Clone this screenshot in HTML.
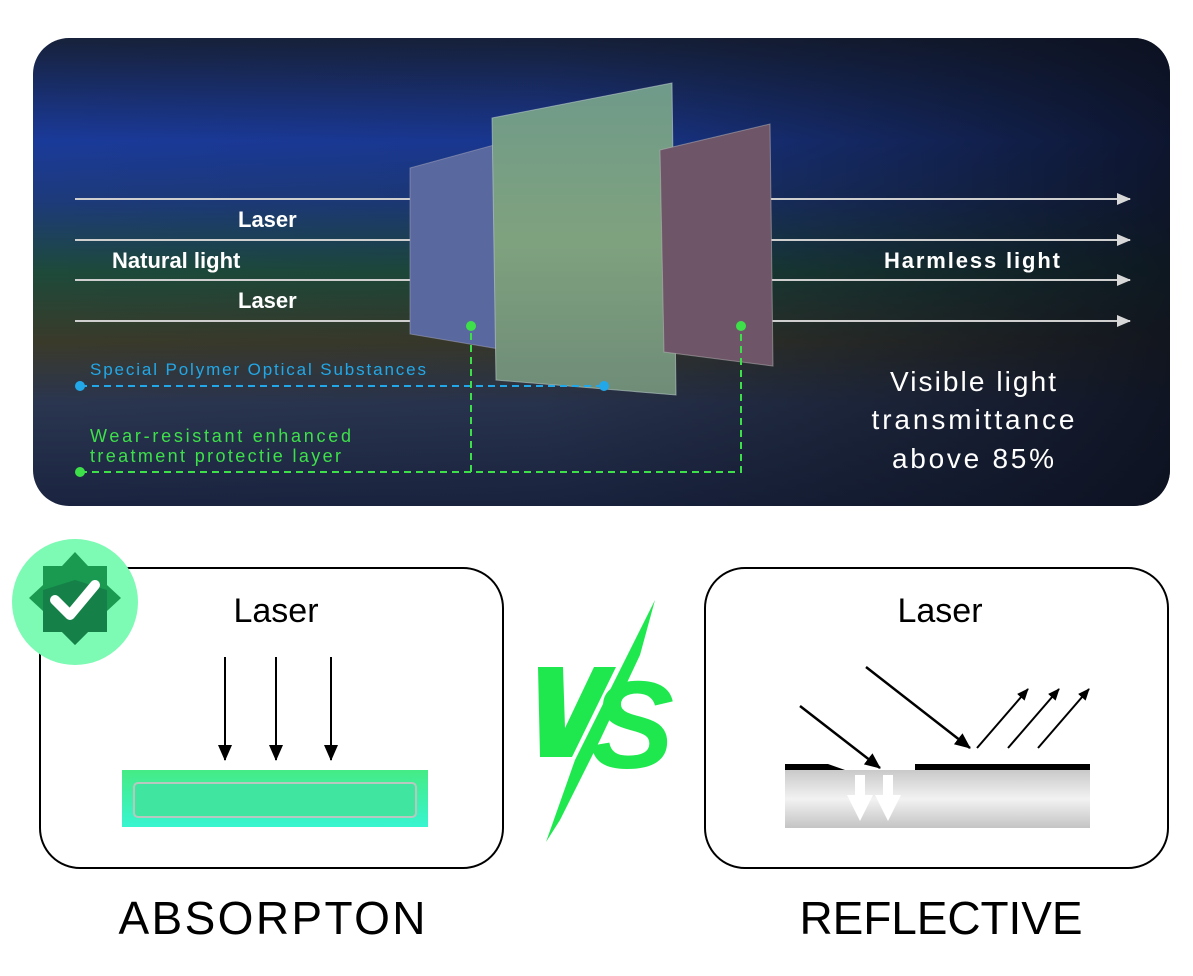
<!DOCTYPE html>
<html><head><meta charset="utf-8"><style>
html,body{margin:0;padding:0;background:#fff;width:1193px;height:976px;overflow:hidden}
svg{display:block}
text{font-family:"Liberation Sans",sans-serif}
</style></head><body>
<svg width="1193" height="976" viewBox="0 0 1193 976" xmlns="http://www.w3.org/2000/svg">
<defs>
<linearGradient id="bg" x1="0" y1="0" x2="0" y2="1">
<stop offset="0" stop-color="#17213a"/>
<stop offset="0.22" stop-color="#1a3a9a"/>
<stop offset="0.35" stop-color="#1d3a7a"/>
<stop offset="0.5" stop-color="#1d4a3a"/>
<stop offset="0.65" stop-color="#3a3a2a"/>
<stop offset="0.78" stop-color="#2a3550"/>
<stop offset="1" stop-color="#1a2440"/>
</linearGradient>
<linearGradient id="fade" x1="0" y1="0" x2="1" y2="0">
<stop offset="0" stop-color="#0d1424" stop-opacity="0"/>
<stop offset="0.45" stop-color="#0d1424" stop-opacity="0.1"/>
<stop offset="1" stop-color="#0b0f1c" stop-opacity="0.85"/>
</linearGradient>
<linearGradient id="bar" x1="0" y1="0" x2="0" y2="1">
<stop offset="0" stop-color="#45eb85"/><stop offset="1" stop-color="#38f5d0"/>
</linearGradient>
<linearGradient id="gray" x1="0" y1="0" x2="0" y2="1">
<stop offset="0" stop-color="#c9c9c9"/><stop offset="0.5" stop-color="#f2f2f2"/><stop offset="1" stop-color="#c4c4c4"/>
</linearGradient>
<linearGradient id="pc" x1="0" y1="0" x2="0" y2="1">
<stop offset="0" stop-color="#6f9a8a"/><stop offset="0.5" stop-color="#7fa27e"/><stop offset="1" stop-color="#6f8c78"/>
</linearGradient>
<marker id="wa" markerWidth="14" markerHeight="14" refX="13" refY="7" orient="auto" markerUnits="userSpaceOnUse"><path d="M0,1 L14,7 L0,13z" fill="#d8d8d8"/></marker>
<marker id="ba" markerWidth="16" markerHeight="16" refX="15" refY="8" orient="auto" markerUnits="userSpaceOnUse"><path d="M0,1 L16,8 L0,15z" fill="#000"/></marker>
<marker id="bs" markerWidth="12" markerHeight="12" refX="11" refY="6" orient="auto" markerUnits="userSpaceOnUse"><path d="M0,1 L12,6 L0,11z" fill="#000"/></marker>
</defs>
<rect x="33" y="38" width="1137" height="468" rx="36" fill="url(#bg)"/>
<rect x="33" y="38" width="1137" height="468" rx="36" fill="url(#fade)"/>
<g stroke="#cfcfcf" stroke-width="2" marker-end="url(#wa)">
<line x1="75" y1="199" x2="1130" y2="199"/>
<line x1="75" y1="240" x2="1130" y2="240"/>
<line x1="75" y1="280" x2="1130" y2="280"/>
<line x1="75" y1="321" x2="1130" y2="321"/>
</g>
<polygon points="410,168 505,142 505,350 410,334" fill="#5a68a0" stroke="#aab" stroke-opacity="0.5"/>
<polygon points="492,118 672,83 676,395 496,380" fill="url(#pc)" stroke="#bcc" stroke-opacity="0.6"/>
<polygon points="660,150 770,124 773,366 664,352" fill="#6e5668" stroke="#bbb" stroke-opacity="0.5"/>
<g fill="#fff" font-weight="bold" font-size="22">
<text x="238" y="227">Laser</text>
<text x="112" y="268">Natural light</text>
<text x="238" y="308">Laser</text>
<text x="884" y="268" textLength="176">Harmless light</text>
</g>
<g fill="#fff" font-size="28" text-anchor="middle">
<text x="973" y="391" textLength="166">Visible light</text>
<text x="973" y="429" textLength="203">transmittance</text>
<text x="973" y="468" textLength="162">above 85%</text>
</g>
<text x="90" y="375" fill="#22a8e8" font-size="17" textLength="336">Special Polymer Optical Substances</text>
<line x1="80" y1="386" x2="604" y2="386" stroke="#22a8e8" stroke-width="2" stroke-dasharray="7,5"/>
<circle cx="80" cy="386" r="5" fill="#22a8e8"/><circle cx="604" cy="386" r="5" fill="#22a8e8"/>
<text x="90" y="442" fill="#3ee04a" font-size="18" textLength="261">Wear-resistant enhanced</text>
<text x="90" y="462" fill="#3ee04a" font-size="18" textLength="251">treatment protectie layer</text>
<path d="M80,472 H741 V326 M471,472 V326" fill="none" stroke="#3ee04a" stroke-width="2" stroke-dasharray="7,5"/>
<circle cx="80" cy="472" r="5" fill="#3ee04a"/><circle cx="471" cy="326" r="5" fill="#3ee04a"/><circle cx="741" cy="326" r="5" fill="#3ee04a"/>

<rect x="40" y="568" width="463" height="300" rx="40" fill="#fff" stroke="#000" stroke-width="2"/>
<rect x="705" y="568" width="463" height="300" rx="40" fill="#fff" stroke="#000" stroke-width="2"/>
<text x="276" y="622" font-size="34" text-anchor="middle">Laser</text>
<text x="940" y="622" font-size="34" text-anchor="middle">Laser</text>
<g stroke="#000" stroke-width="2" marker-end="url(#ba)">
<line x1="225" y1="657" x2="225" y2="760"/>
<line x1="276" y1="657" x2="276" y2="760"/>
<line x1="331" y1="657" x2="331" y2="760"/>
</g>
<rect x="122" y="770" width="306" height="57" fill="url(#bar)"/>
<rect x="134" y="783" width="282" height="34" rx="4" fill="#40e6a0" stroke="#b8c8c0" stroke-width="2"/>
<circle cx="75" cy="602" r="63" fill="#7dfab4"/>
<polygon points="75,552 88,566 107,566 107,585 121,598 107,611 107,632 88,632 75,645 62,632 43,632 43,611 29,598 43,585 43,566 62,566" fill="#1a9a50"/>
<polygon points="75,580 107,590 107,632 88,632 75,645 62,632 43,632 43,590" fill="#158048"/>
<path d="M55,600 L70,615 L95,585" fill="none" stroke="#fff" stroke-width="10" stroke-linecap="round" stroke-linejoin="round"/>

<rect x="785" y="770" width="305" height="58" fill="url(#gray)"/>
<path d="M785,764 H828 L845,770 H785z" fill="#000"/>
<rect x="915" y="764" width="175" height="6" fill="#000"/>
<path d="M855,775 h10 v20 h8 l-13,26 l-13,-26 h8z M883,775 h10 v20 h8 l-13,26 l-13,-26 h8z" fill="#fff"/>
<g stroke="#000" stroke-width="2.5" marker-end="url(#ba)">
<line x1="800" y1="706" x2="880" y2="768"/>
<line x1="866" y1="667" x2="970" y2="748"/>
</g>
<g stroke="#000" stroke-width="2" marker-end="url(#bs)">
<line x1="977" y1="748" x2="1028" y2="689"/>
<line x1="1008" y1="748" x2="1059" y2="689"/>
<line x1="1038" y1="748" x2="1089" y2="689"/>
</g>
<g fill="#1fe84e">
<polygon points="538,667 563,667 565,728 594,667 616,667 572,757 540,757"/>
<polygon points="655,600 640,655 600,740 560,820 546,842 575,760 615,680"/>
<text x="590" y="768" font-size="124" font-weight="bold" font-style="italic" textLength="84" lengthAdjust="spacingAndGlyphs">S</text>
</g>
<text x="272" y="934" font-size="46" text-anchor="middle" textLength="307">ABSORPTON</text>
<text x="941" y="934" font-size="46" text-anchor="middle" textLength="283">REFLECTIVE</text>
</svg>
</body></html>
